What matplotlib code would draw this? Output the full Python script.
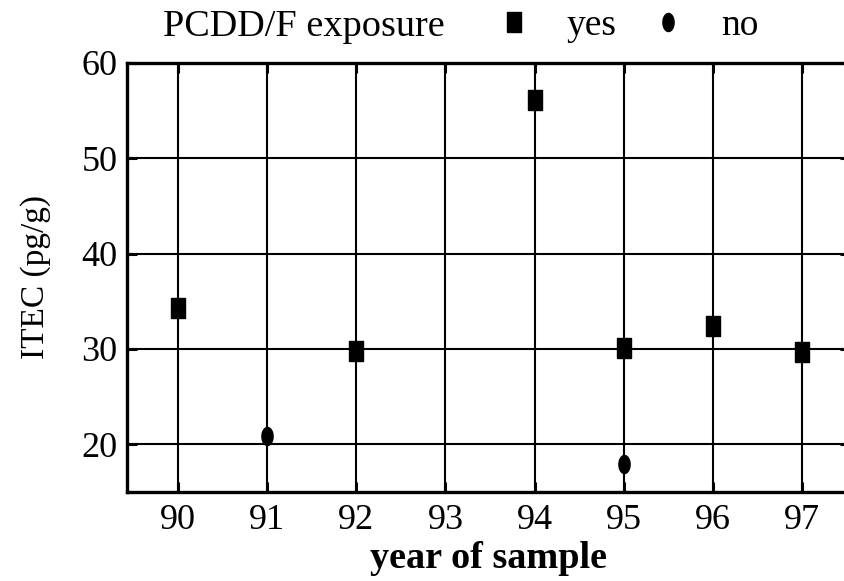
import numpy as np
import matplotlib
matplotlib.use("Agg")
import matplotlib.pyplot as plt
from matplotlib.lines import Line2D

# values
years_yes = [90, 92, 94, 95, 96, 97]
itec_yes = [34.3, 29.8, 56.1, 30.1, 32.4, 29.7]
years_no = [91, 95]
itec_no = [20.8, 17.9]
xticks = [90, 91, 92, 93, 94, 95, 96, 97]
yticks = [20, 30, 40, 50, 60]

plt.rcParams['font.family'] = ['Liberation Serif', 'DejaVu Serif']

# tall block and oval markers like the scanned figure
box = [(-0.35, -0.5), (0.35, -0.5), (0.35, 0.5), (-0.35, 0.5), (-0.35, -0.5)]
t = np.linspace(0, 2 * np.pi, 40)
oval = list(zip(0.31 * np.cos(t), 0.5 * np.sin(t)))

fig = plt.figure(figsize=(8.45, 5.81), dpi=100)
# right edge of the frame sits just outside the picture, as in the scan
ax = fig.add_axes([0.1507, 0.1537, 0.8553, 0.7379])

ax.set_xlim(89.43, 97.54)
ax.set_ylim(15, 60)
ax.set_xticks(xticks)
ax.set_yticks(yticks)
ax.grid(True, color='black', lw=1.5)
ax.set_axisbelow(True)

ax.plot(years_yes, itec_yes, ls='none', marker=box, ms=14.5, color='black', zorder=3)
ax.plot(years_no, itec_no, ls='none', marker=oval, ms=13, color='black', zorder=3)

for s in ax.spines.values():
    s.set_linewidth(2.4)
ax.tick_params(direction='in', length=7, width=2.2, top=True, right=True,
               labelsize=26)
ax.tick_params(axis='x', pad=9)
ax.tick_params(axis='y', pad=7)

ax.set_xlabel('year of sample', fontsize=27.5, fontweight='bold', labelpad=3)
ax.set_ylabel('ITEC (pg/g)', fontsize=24, labelpad=22)

fig.text(163 / 845, 1 - 36.5 / 581, 'PCDD/F exposure', fontsize=27.5, va='baseline', ha='left')
handles = [Line2D([], [], ls='none', marker=box, ms=14.5, color='black'),
           Line2D([], [], ls='none', marker=oval, ms=13, color='black')]
fig.legend(handles, ['yes', 'no'], ncol=2, frameon=False, fontsize=27,
           loc='center left', bbox_to_anchor=(495 / 845, 1 - 26 / 581),
           handlelength=1.0, handletextpad=0.91, columnspacing=0.87,
           borderaxespad=0, borderpad=0)

fig.savefig('out.png', dpi=100)
